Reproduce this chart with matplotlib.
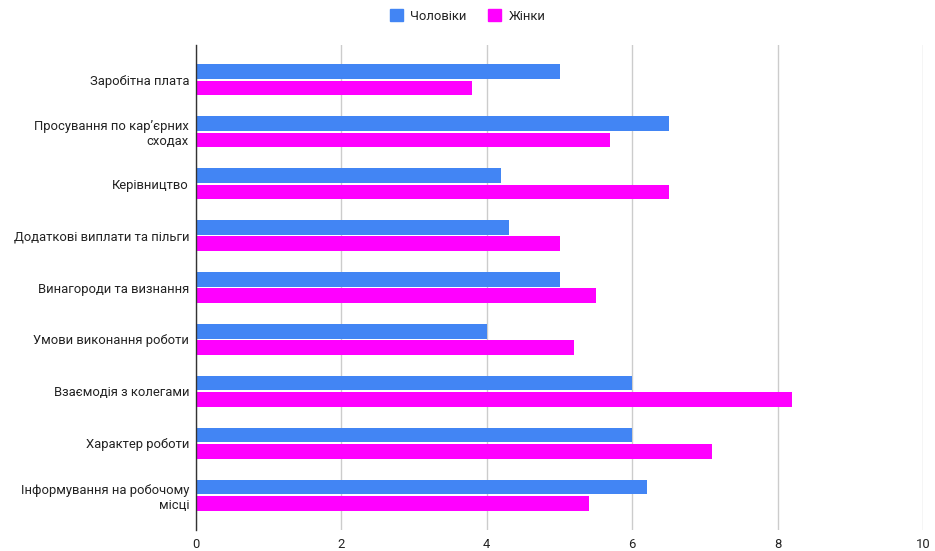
import numpy as np
import matplotlib.pyplot as plt
from matplotlib.patches import Patch

plt.rcParams['font.family'] = ['Roboto', 'DejaVu Sans']

categories = ['Заробітна плата',
              'Просування по кар’єрних\nсходах',
              'Керівництво',
              'Додаткові виплати та пільги',
              'Винагороди та визнання',
              'Умови виконання роботи',
              'Взаємодія з колегами',
              'Характер роботи',
              'Інформування на робочому\nмісці']
men = [5.0, 6.5, 4.2, 4.3, 5.0, 4.0, 6.0, 6.0, 6.2]
women = [3.8, 5.7, 6.5, 5.0, 5.5, 5.2, 8.2, 7.1, 5.4]
xticks = [0, 2, 4, 6, 8, 10]

col_men = '#4285F4'
col_women = '#FF00FF'
fs = 9.4

W, H = 935, 551
fig = plt.figure(figsize=(W/100, H/100), dpi=100)
ax = fig.add_axes([196/W, 1-530/H, (923-196)/W, (530-45)/H])

y = np.arange(len(categories))
bh = 0.28
ax.barh(y-0.157, men, height=bh, color=col_men, zorder=3)
ax.barh(y+0.157, women, height=bh, color=col_women, zorder=3)

ax.set_ylim(8.67, -0.67)
ax.set_xlim(0, 10)
ax.set_yticks(y)
ax.set_yticklabels(categories, fontsize=fs, color='#222222')
ax.set_xticks(xticks)
ax.set_xticklabels([str(t) for t in xticks], fontsize=fs, color='#222222')
ax.tick_params(length=0, pad=6)
ax.tick_params(axis='y', pad=5)
ax.grid(axis='x', color='#cccccc', lw=1, zorder=0)
for s in ['top', 'right', 'bottom']:
    ax.spines[s].set_visible(False)
ax.spines['left'].set_color('#333333')
ax.spines['left'].set_linewidth(1)
ax.spines['left'].set_zorder(4)

handles = [Patch(color=col_men, label='Чоловіки'),
           Patch(color=col_women, label='Жінки')]
fig.legend(handles=handles, loc='center', bbox_to_anchor=(0.5, 1-16/H),
           ncol=2, frameon=False, fontsize=fs, handlelength=1.0,
           handleheight=1.0, handletextpad=0.6, columnspacing=1.6,
           labelcolor='#222222')

fig.savefig('out.png', dpi=100, facecolor='white')
